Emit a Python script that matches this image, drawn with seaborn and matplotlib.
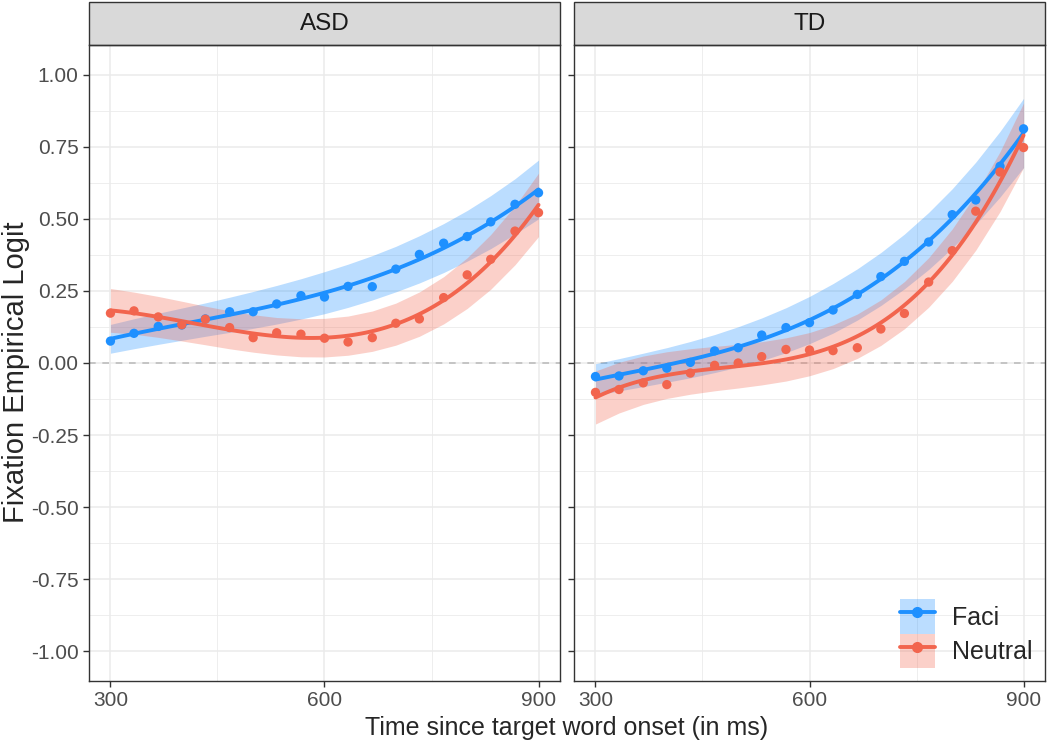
import matplotlib
matplotlib.use("Agg")
import matplotlib.pyplot as plt
import seaborn as sns
import numpy as np
from matplotlib.patches import Rectangle, Patch
from matplotlib.lines import Line2D
from matplotlib.legend_handler import HandlerTuple

# time bins (ms)
times = [300, 333, 367, 400, 433, 467, 500, 533, 567, 600, 633, 667, 700, 733, 767, 800, 833, 867, 900]

# observed empirical logits
asd_faci = [0.076, 0.103, 0.127, 0.132, 0.153, 0.178, 0.178, 0.205, 0.234, 0.229, 0.266, 0.265, 0.326, 0.377, 0.416, 0.439, 0.490, 0.551, 0.591]
asd_neutral = [0.173, 0.181, 0.160, 0.133, 0.152, 0.123, 0.088, 0.105, 0.100, 0.086, 0.073, 0.088, 0.138, 0.153, 0.227, 0.306, 0.360, 0.458, 0.522]
td_faci = [-0.047, -0.045, -0.027, -0.018, 0.002, 0.042, 0.053, 0.097, 0.123, 0.140, 0.184, 0.238, 0.300, 0.353, 0.420, 0.515, 0.566, 0.683, 0.813]
td_neutral = [-0.102, -0.092, -0.069, -0.075, -0.035, -0.008, 0.000, 0.022, 0.047, 0.045, 0.043, 0.053, 0.118, 0.172, 0.281, 0.390, 0.527, 0.663, 0.748]

# half widths of the model confidence ribbons
asd_faci_hw = [0.050, 0.052, 0.054, 0.056, 0.058, 0.061, 0.064, 0.067, 0.070, 0.073, 0.075, 0.077, 0.079, 0.082, 0.085, 0.088, 0.092, 0.096, 0.102]
asd_neutral_hw = [0.076, 0.073, 0.071, 0.069, 0.067, 0.066, 0.065, 0.065, 0.066, 0.067, 0.068, 0.070, 0.073, 0.077, 0.082, 0.088, 0.095, 0.102, 0.110]
td_faci_hw = [0.055, 0.056, 0.058, 0.060, 0.063, 0.066, 0.070, 0.074, 0.078, 0.082, 0.086, 0.089, 0.092, 0.095, 0.099, 0.103, 0.108, 0.114, 0.120]
td_neutral_hw = [0.092, 0.088, 0.084, 0.081, 0.079, 0.077, 0.076, 0.075, 0.075, 0.075, 0.076, 0.077, 0.079, 0.082, 0.086, 0.091, 0.097, 0.104, 0.112]

groups = ["ASD", "TD"]
conditions = ["Faci", "Neutral"]
colors = {"Faci": "#1E90FF", "Neutral": "#F2654E"}

data = {
    "ASD": {"Faci": (asd_faci, asd_faci_hw), "Neutral": (asd_neutral, asd_neutral_hw)},
    "TD": {"Faci": (td_faci, td_faci_hw), "Neutral": (td_neutral, td_neutral_hw)},
}

sns.set_style("white")
plt.rcParams["font.family"] = ["Liberation Sans", "DejaVu Sans"]

fig, axes = plt.subplots(1, 2, figsize=(10.5, 7.44), dpi=100, sharey=True)
fig.subplots_adjust(left=0.0848, right=0.9952, bottom=0.0847, top=0.9395, wspace=0.03)

t = np.array(times, dtype=float)
for ax, grp in zip(axes, groups):
    ax.set_xlim(270, 930)
    ax.set_ylim(-1.104, 1.104)
    ax.set_xticks([300, 600, 900])
    ax.set_xticks([450, 750], minor=True)
    ax.set_yticks([-1, -0.75, -0.5, -0.25, 0, 0.25, 0.5, 0.75, 1])
    ax.set_yticks(np.arange(-0.875, 1.0, 0.25), minor=True)
    ax.grid(True, which="major", color="#EBEBEB", linewidth=1.1)
    ax.grid(True, which="minor", color="#EBEBEB", linewidth=0.6)
    ax.set_axisbelow(True)
    ax.axhline(0, color="#BDBDBD", linestyle=(0, (4, 4)), linewidth=1.2, zorder=1)

    for cond in conditions:
        obs, hw = data[grp][cond]
        col = colors[cond]
        fit = np.polyval(np.polyfit(t, obs, 3), t)
        ax.fill_between(t, fit - np.array(hw), fit + np.array(hw), color=col, alpha=0.3, linewidth=0, zorder=2)
        sns.regplot(x=t, y=np.array(obs), order=3, ci=None, scatter=False, ax=ax, truncate=True,
                    line_kws={"color": col, "linewidth": 2.8, "zorder": 3})
        sns.scatterplot(x=t, y=np.array(obs), ax=ax, color=col, s=45, edgecolor="none", zorder=4)

    for sp in ax.spines.values():
        sp.set_visible(True)
        sp.set_color("#333333")
        sp.set_linewidth(1.0)
    ax.tick_params(axis="both", which="major", length=4, width=1, color="#333333",
                   labelcolor="#4D4D4D", labelsize=15, direction="out", bottom=True, left=True)
    ax.tick_params(axis="both", which="minor", length=0)
    ax.set_xlabel("")
    ax.set_ylabel("")

    # facet strip
    strip_h = 43 / 636
    ax.add_patch(Rectangle((0, 1), 1, strip_h, transform=ax.transAxes, facecolor="#D9D9D9",
                           edgecolor="#333333", linewidth=1.0, clip_on=False))
    ax.text(0.5, 1 + strip_h / 2, grp, transform=ax.transAxes, ha="center", va="center",
            fontsize=17.5, color="#1A1A1A")

axes[1].tick_params(axis="y", which="major", left=True, labelleft=False)
axes[0].set_yticklabels(["-1.00", "-0.75", "-0.50", "-0.25", "0.00", "0.25", "0.50", "0.75", "1.00"])

fig.text(0.002, 0.5, "Fixation Empirical Logit", rotation=90, ha="left", va="center", fontsize=21)
fig.text(0.54, 0.006, "Time since target word onset (in ms)", ha="center", va="bottom", fontsize=18)

handles = []
for cond in conditions:
    col = colors[cond]
    handles.append((Patch(facecolor=col, alpha=0.3, edgecolor="none"),
                    Line2D([0], [0], color=col, linewidth=2.8, marker="o", markersize=7)))
axes[1].legend(handles, conditions, handler_map={tuple: HandlerTuple(ndivide=1, pad=0)},
               loc="lower right", frameon=False, fontsize=18, handlelength=1.4, handleheight=1.75,
               labelspacing=0.0, handletextpad=0.68, borderpad=0, borderaxespad=0.5)

fig.savefig("out.png", dpi=100)
